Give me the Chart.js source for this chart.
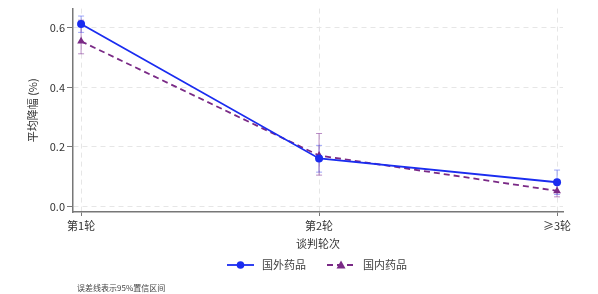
<!DOCTYPE html>
<html>
<head>
<meta charset="utf-8">
<script src="https://cdn.jsdelivr.net/npm/chart.js@4"></script>
<style>
  html, body { margin: 0; padding: 0; background: #fff; }
  #wrap { width: 598px; height: 294px; }
</style>
</head>
<body>
<div id="wrap"><canvas id="myChart" width="598" height="294"></canvas></div>
<script>
const rounds = ['第1轮', '第2轮', '≥3轮'];
const foreignMean = [0.613, 0.161, 0.081];
const foreignLow = [0.585, 0.115, 0.040];
const foreignHigh = [0.640, 0.205, 0.122];
const domesticMean = [0.555, 0.171, 0.052];
const domesticLow = [0.513, 0.105, 0.032];
const domesticHigh = [0.626, 0.245, 0.075];
const yTicks = [0, 0.2, 0.4, 0.6];

const FONT = '"Noto Sans CJK SC", "Noto Sans", sans-serif';
const BLUE = '#1a2cf0';
const PURPLE = '#7a2a86';

// error bars + legend + note, drawn with the chart's scales
const extras = {
  id: 'extras',
  beforeDatasetsDraw(chart) {
    const ctx = chart.ctx;
    const xs = chart.scales.x, ys = chart.scales.y;
    const sets = [
      {low: foreignLow, high: foreignHigh, color: 'rgba(40,60,240,0.45)'},
      {low: domesticLow, high: domesticHigh, color: 'rgba(130,50,150,0.55)'}
    ];
    ctx.save();
    ctx.lineWidth = 1;
    sets.forEach(s => {
      ctx.strokeStyle = s.color;
      s.low.forEach((lo, i) => {
        const x = xs.getPixelForValue(i);
        const y1 = ys.getPixelForValue(lo), y2 = ys.getPixelForValue(s.high[i]);
        ctx.beginPath();
        ctx.moveTo(x, y1); ctx.lineTo(x, y2);
        ctx.moveTo(x - 3, y1); ctx.lineTo(x + 3, y1);
        ctx.moveTo(x - 3, y2); ctx.lineTo(x + 3, y2);
        ctx.stroke();
      });
    });
    ctx.restore();
  },
  afterDraw(chart) {
    const ctx = chart.ctx;
    ctx.save();
    // title, almost entirely above the visible area
    ctx.fillStyle = '#888';
    ctx.font = '13px ' + FONT;
    ctx.textAlign = 'center';
    ctx.textBaseline = 'alphabetic';
    ctx.fillText('不同谈判轮次药品平均降幅', 318, -4);

    // legend
    const ly = 265;
    ctx.lineWidth = 1.8;
    ctx.strokeStyle = BLUE;
    ctx.beginPath(); ctx.moveTo(227, ly); ctx.lineTo(254, ly); ctx.stroke();
    ctx.fillStyle = BLUE;
    ctx.beginPath(); ctx.arc(240.5, ly, 3.8, 0, Math.PI * 2); ctx.fill();
    ctx.strokeStyle = PURPLE;
    ctx.setLineDash([6, 4]);
    ctx.beginPath(); ctx.moveTo(327, ly); ctx.lineTo(355, ly); ctx.stroke();
    ctx.setLineDash([]);
    ctx.fillStyle = PURPLE;
    ctx.beginPath();
    ctx.moveTo(341, ly - 4.5); ctx.lineTo(345.5, ly + 3.5); ctx.lineTo(336.5, ly + 3.5);
    ctx.closePath(); ctx.fill();

    ctx.fillStyle = '#444';
    ctx.font = '11px ' + FONT;
    ctx.textAlign = 'left';
    ctx.textBaseline = 'middle';
    ctx.fillText('国外药品', 262, ly);
    ctx.fillText('国内药品', 363, ly);

    ctx.font = '8px ' + FONT;
    ctx.fillText('误差线表示95%置信区间', 77, 288);
    ctx.restore();
  }
};

const ctx = document.getElementById('myChart').getContext('2d');
window.myChart = new Chart(ctx, {
  type: 'line',
  data: {
    datasets: [{
      label: '国外药品',
      data: foreignMean.map((v, i) => ({x: i, y: v})),
      borderColor: BLUE,
      backgroundColor: BLUE,
      borderWidth: 1.8,
      pointStyle: 'circle',
      pointRadius: 4,
      pointBorderWidth: 0,
      tension: 0
    }, {
      label: '国内药品',
      data: domesticMean.map((v, i) => ({x: i, y: v})),
      borderColor: PURPLE,
      backgroundColor: PURPLE,
      borderWidth: 1.8,
      borderDash: [6, 4],
      pointStyle: 'triangle',
      pointRadius: 4.5,
      pointBorderWidth: 0,
      tension: 0
    }]
  },
  options: {
    responsive: false,
    animation: false,
    layout: { padding: { left: 0, right: 35, top: 0, bottom: 0 } },
    plugins: {
      legend: { display: false },
      tooltip: { enabled: false }
    },
    scales: {
      x: {
        type: 'linear',
        min: -0.034,
        max: 2.025,
        afterBuildTicks: (axis) => { axis.ticks = [0, 1, 2].map(v => ({value: v})); },
        afterFit: (axis) => { axis.height = 82; },
        ticks: {
          callback: (v) => rounds[v],
          color: '#333',
          font: { family: FONT, size: 11 },
          padding: 3,
          maxRotation: 0,
          autoSkip: false
        },
        grid: { color: '#e6e6e6', tickColor: '#777', tickLength: 4, lineWidth: 1 },
        border: { color: '#777', width: 1.5, dash: [5, 4] },
        title: {
          display: true,
          text: '谈判轮次',
          color: '#333',
          font: { family: FONT, size: 11 },
          padding: { top: 44, bottom: 44 }
        }
      },
      y: {
        min: -0.019,
        max: 0.665,
        afterBuildTicks: (axis) => { axis.ticks = yTicks.map(v => ({value: v})); },
        afterFit: (axis) => { axis.width = 73; },
        ticks: {
          callback: (v) => v.toFixed(1),
          color: '#333',
          font: { family: FONT, size: 11 },
          padding: 2
        },
        grid: { color: '#e6e6e6', tickColor: '#777', tickLength: 6, lineWidth: 1 },
        border: { color: '#777', width: 1.5, dash: [5, 4] },
        title: {
          display: true,
          text: '平均降幅 (%)',
          color: '#333',
          font: { family: FONT, size: 11 },
          padding: { top: 26, bottom: 26 }
        }
      }
    }
  },
  plugins: [extras]
});
</script>
</body>
</html>
